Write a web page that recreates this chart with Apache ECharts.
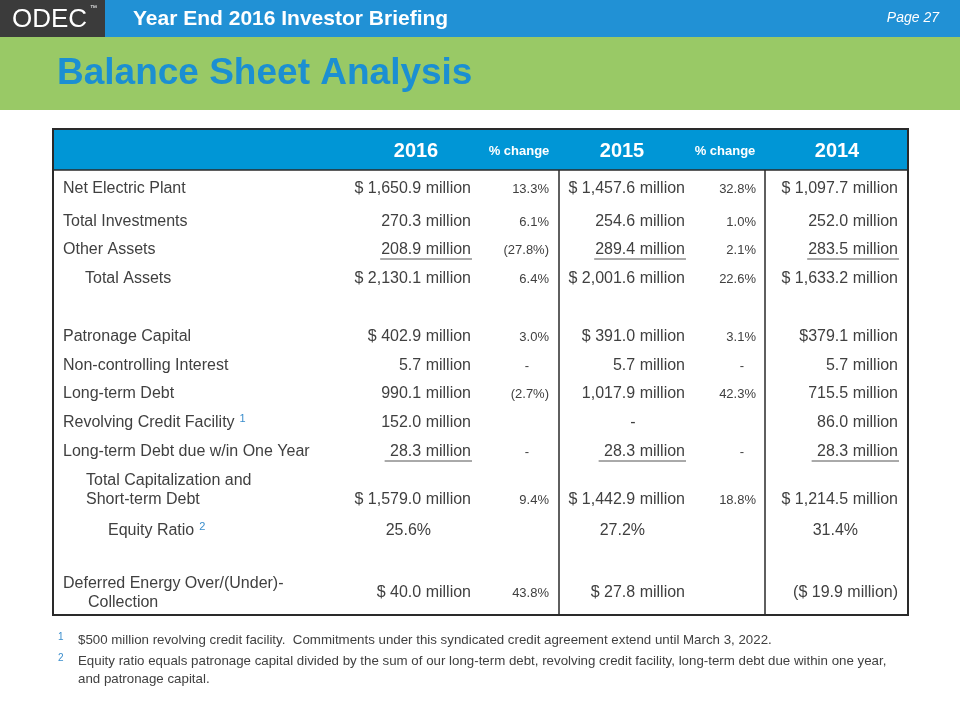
<!DOCTYPE html>
<html><head><meta charset="utf-8">
<script src="https://cdn.jsdelivr.net/npm/echarts@6/dist/echarts.min.js"></script>
<style>html,body{margin:0;padding:0;background:#fff}#c{width:960px;height:720px}</style>
</head><body><div id="c"></div>
<script>
// ---------- DATA ----------
const headers = ['2016', '% change', '2015', '% change', '2014'];
const rowLabels = [
  'Net Electric Plant', 'Total Investments', 'Other Assets', 'Total Assets',
  'Patronage Capital', 'Non-controlling Interest', 'Long-term Debt',
  'Revolving Credit Facility', 'Long-term Debt due w/in One Year',
  'Total Capitalization and\nShort-term Debt', 'Equity Ratio',
  'Deferred Energy Over/(Under)-\nCollection'
];
const labelNotes = ['', '', '', '', '', '', '', '1', '', '', '2', ''];
const values2016 = ['$ 1,650.9 million', '270.3 million', '208.9 million', '$ 2,130.1 million',
  '$ 402.9 million', '5.7 million', '990.1 million', '152.0 million', ' 28.3 million',
  '$ 1,579.0 million', '25.6%', '$ 40.0 million'];
const change2016 = ['13.3%', '6.1%', '(27.8%)', '6.4%', '3.0%', '-', '(2.7%)', '', '-', '9.4%', '', '43.8%'];
const values2015 = ['$ 1,457.6 million', '254.6 million', '289.4 million', '$ 2,001.6 million',
  '$ 391.0 million', '5.7 million', '1,017.9 million', '-', ' 28.3 million',
  '$ 1,442.9 million', '27.2%', '$ 27.8 million'];
const change2015 = ['32.8%', '1.0%', '2.1%', '22.6%', '3.1%', '-', '42.3%', '', '-', '18.8%', '', ''];
const values2014 = ['$ 1,097.7 million', '252.0 million', '283.5 million', '$ 1,633.2 million',
  '$379.1 million', '5.7 million', '715.5 million', '86.0 million', ' 28.3 million',
  '$ 1,214.5 million', '31.4%', '($ 19.9 million)'];
const footnotes = [
  ['1', '$500 million revolving credit facility.  Commitments under this syndicated credit agreement extend until March 3, 2022.'],
  ['2', 'Equity ratio equals patronage capital divided by the sum of our long-term debt, revolving credit facility, long-term debt due within one year,\nand patronage capital.']
];
const slideHeader = 'Year End 2016 Investor Briefing';
const slideTitle = 'Balance Sheet Analysis';
const pageLabel = 'Page 27';

// ---------- LAYOUT (table-local units) ----------
const L = {
  width: 855, height: 486, headerH: 41, headerY: 22,
  rowY:   [60, 93, 121, 150, 208, 237, 265, 294, 323, 371, 402, 464],
  labelY: [60, 93, 121, 150, 208, 237, 265, 294, 323, 361, 402, 464],
  labelX: [10, 10, 10, 32, 10, 10, 10, 10, 10, 33, 55, 10],
  hang:   [0, 0, 0, 0, 0, 0, 0, 0, 0, 0, 0, 25],
  underlineRows: [2, 8],
  equityRow: 10, equityInset: 40,
  dividers: [506, 712]
};
const cols = [
  { data: values2016, right: 418, head: 363, dash: 363, small: false },
  { data: change2016, right: 496, head: 466, dash: 474, small: true },
  { data: values2015, right: 632, head: 569, dash: 580, small: false },
  { data: change2015, right: 703, head: 672, dash: 689, small: true },
  { data: values2014, right: 845, head: 784, dash: 784, small: false }
];

const FONT = '"Liberation Sans", Arial, Helvetica, sans-serif';
const TEXT = '#404040';
const BLUE_SUP = '#3a8dcc';
const cv = document.createElement('canvas').getContext('2d');
function measure(t, size, weight) {
  cv.font = (weight || 'normal') + ' ' + size + 'px ' + FONT;
  return cv.measureText(t).width;
}
function txt(x, y, text, size, opts) {
  opts = opts || {};
  return {
    type: 'text', x: x, y: y, silent: true,
    style: {
      text: text, fill: opts.fill || TEXT,
      font: (opts.style || 'normal') + ' ' + (opts.weight || 'normal') + ' ' + size + 'px ' + FONT,
      align: opts.align || 'left', verticalAlign: 'middle',
      textAlign: opts.align || 'left', textVerticalAlign: 'middle'
    }
  };
}

function renderFrame(params, api) {
  const tl = api.coord([0, 0]);
  const br = api.coord([L.width, L.height]);
  const hb = api.coord([L.width, L.headerH]);
  const children = [];
  children.push({ type: 'rect', shape: { x: tl[0], y: tl[1], width: br[0] - tl[0], height: hb[1] - tl[1] },
    style: { fill: '#0096d6' } });
  children.push({ type: 'line', shape: { x1: tl[0], y1: hb[1], x2: br[0], y2: hb[1] },
    style: { stroke: '#2a2a2a', lineWidth: 1.5 } });
  L.dividers.forEach(function (d) {
    const a = api.coord([d, L.headerH]), b = api.coord([d, L.height]);
    children.push({ type: 'line', shape: { x1: a[0], y1: a[1], x2: b[0], y2: b[1] },
      style: { stroke: '#2a2a2a', lineWidth: 1.5 } });
  });
  children.push({ type: 'rect', shape: { x: tl[0], y: tl[1], width: br[0] - tl[0], height: br[1] - tl[1] },
    style: { fill: null, stroke: '#2a2a2a', lineWidth: 2 } });
  cols.forEach(function (c, k) {
    const p = api.coord([c.head, L.headerY]);
    children.push(txt(p[0], p[1], headers[k], c.small ? 13 : 20, { fill: '#fff', weight: 'bold', align: 'center' }));
  });
  return { type: 'group', children: children };
}

function renderRow(params, api) {
  const i = api.value(0);
  const children = [];
  const lines = rowLabels[i].split('\n');
  const n = lines.length;
  lines.forEach(function (ln, k) {
    const p = api.coord([L.labelX[i] + (k > 0 ? L.hang[i] : 0), L.labelY[i] + (k - (n - 1) / 2) * 19]);
    children.push(txt(p[0], p[1], ln, 16));
    if (labelNotes[i] && k === n - 1) {
      const w = measure(ln, 16);
      children.push(txt(p[0] + w + 5, p[1] - 4, labelNotes[i], 11, { fill: BLUE_SUP }));
    }
  });
  cols.forEach(function (c) {
    const v = c.data[i];
    if (!v) return;
    const size = c.small ? 13 : 16;
    if (v === '-') {
      const p = api.coord([c.dash, L.rowY[i]]);
      children.push(txt(p[0], p[1], v, size, { align: 'center' }));
      return;
    }
    const rx = i === L.equityRow ? c.right - L.equityInset : c.right;
    const p = api.coord([rx, L.rowY[i]]);
    children.push(txt(p[0], p[1], v, size, { align: 'right' }));
    if (!c.small && L.underlineRows.indexOf(i) >= 0) {
      const w = measure(v, size);
      children.push({ type: 'line', shape: { x1: p[0] - w - 1, y1: p[1] + 9, x2: p[0] + 1, y2: p[1] + 9 },
        style: { stroke: '#555', lineWidth: 1 } });
    }
  });
  return { type: 'group', children: children };
}

const graphics = [
  { type: 'rect', shape: { x: 0, y: 0, width: 105, height: 37 }, style: { fill: '#3b3b3b' } },
  { type: 'rect', shape: { x: 105, y: 0, width: 855, height: 37 }, style: { fill: '#2191d5' } },
  { type: 'rect', shape: { x: 0, y: 37, width: 960, height: 73 }, style: { fill: '#99c966' } },
  txt(12, 20, 'ODEC', 26, { fill: '#fff' }),
  txt(90, 8, '™', 7, { fill: '#fff' }),
  txt(133, 19, slideHeader, 21, { fill: '#fff', weight: 'bold' }),
  txt(939, 18, pageLabel, 14, { fill: '#fff', style: 'italic', align: 'right' }),
  txt(57, 74, slideTitle, 37, { fill: '#1b8fd2', weight: 'bold' })
];
let fy = 640;
footnotes.forEach(function (f) {
  graphics.push(txt(58, fy - 3, f[0], 10, { fill: BLUE_SUP }));
  f[1].split('\n').forEach(function (ln) {
    graphics.push(txt(78, fy, ln, 13.3));
    fy += 18;
  });
  fy += 3;
});

const chart = echarts.init(document.getElementById('c'), null, { renderer: 'canvas' });
chart.setOption({
  animation: false,
  backgroundColor: '#fff',
  grid: { left: 53, top: 129, width: L.width, height: L.height, show: false },
  xAxis: { type: 'value', min: 0, max: L.width, show: false },
  yAxis: { type: 'value', min: 0, max: L.height, inverse: true, show: false },
  graphic: { elements: graphics },
  series: [
    { type: 'custom', name: 'frame', renderItem: renderFrame, data: [[0]], silent: true, clip: false, z: 1 },
    { type: 'custom', name: 'rows', renderItem: renderRow, data: rowLabels.map(function (_, i) { return [i]; }),
      silent: true, clip: false, z: 2 }
  ]
});
</script></body></html>
